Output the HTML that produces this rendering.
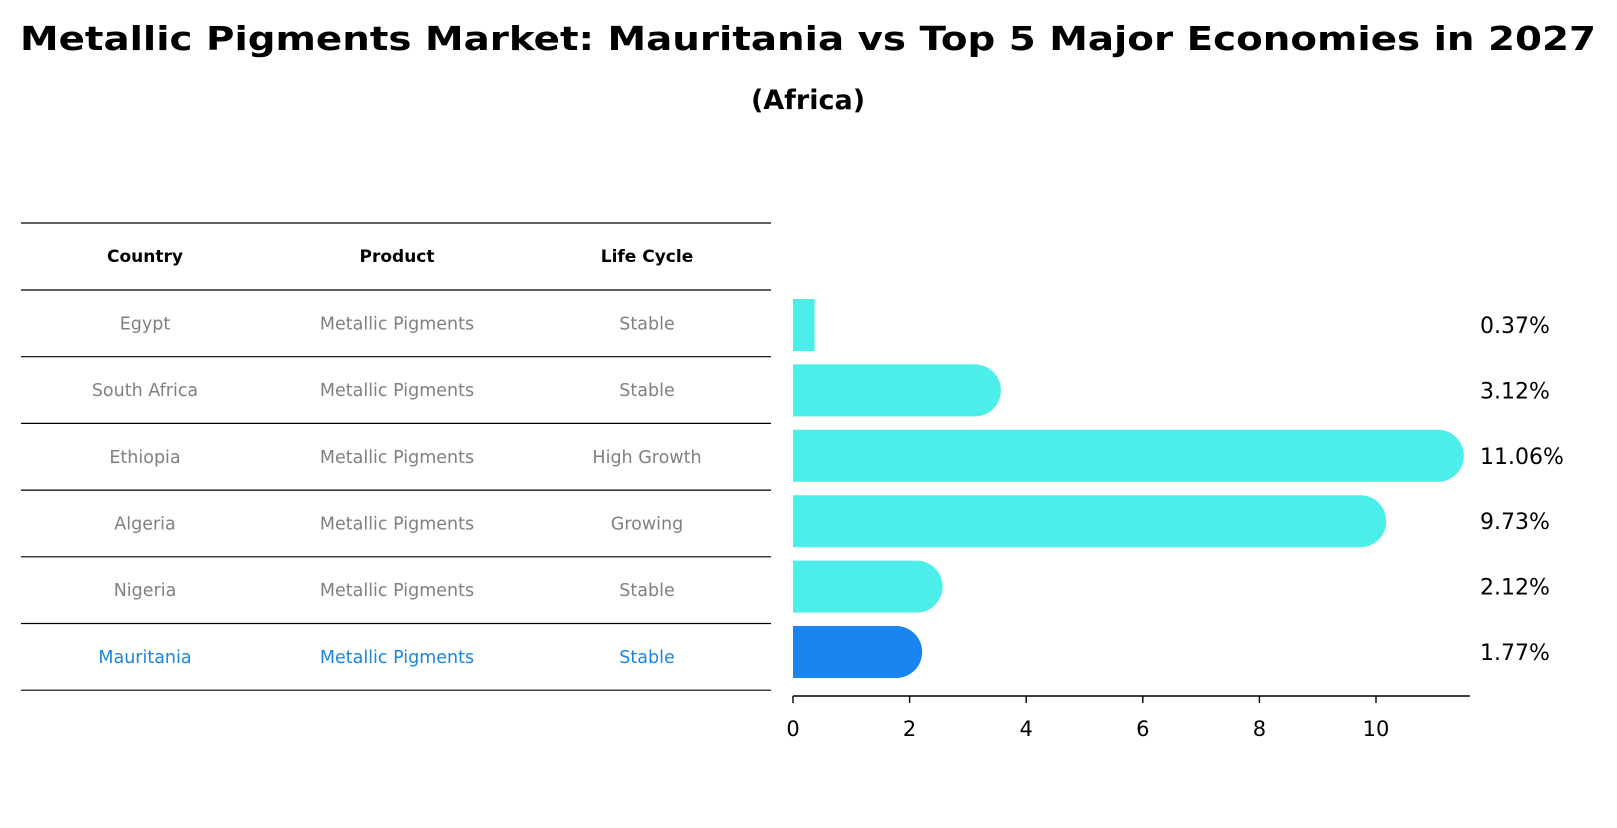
<!DOCTYPE html>
<html><head><meta charset="utf-8"><style>
body{margin:0;background:#fff;width:1617px;height:823px;overflow:hidden}
svg{font-family:"DejaVu Sans","Liberation Sans",sans-serif}
</style></head><body>
<svg width="1617" height="823">
<text x="808" y="50" text-anchor="middle" font-size="33" font-weight="bold" textLength="1576" lengthAdjust="spacingAndGlyphs">Metallic Pigments Market: Mauritania vs Top 5 Major Economies in 2027</text>
<text x="808" y="109" text-anchor="middle" font-size="27" font-weight="bold">(Africa)</text>
<g id="table"></g>
<g id="bars"></g>
</svg>
<script>
const countries=["Egypt","South Africa","Ethiopia","Algeria","Nigeria","Mauritania"];
const products=["Metallic Pigments","Metallic Pigments","Metallic Pigments","Metallic Pigments","Metallic Pigments","Metallic Pigments"];
const lifeCycles=["Stable","Stable","High Growth","Growing","Stable","Stable"];
const values=[0.37,3.12,11.06,9.73,2.12,1.77];
const ticks=[0,2,4,6,8,10];
const NS="http://www.w3.org/2000/svg";
function mk(p,t,a,txt){const e=document.createElementNS(NS,t);for(const k in a)e.setAttribute(k,a[k]);if(txt!=null)e.textContent=txt;p.appendChild(e);return e;}
const tb=document.getElementById('table'),bg=document.getElementById('bars');
const rowTop=290,rowH=66.7,colX=[145,397,647];
// table lines
for(let i=0;i<=countries.length+1;i++){
 const y=i==0?223:rowTop+(i-1)*rowH;
 const l=mk(tb,'line',{x1:21,x2:771,y1:y,y2:y,stroke:'#000','stroke-width':1.2});
 
 
}
["Country","Product","Life Cycle"].forEach((h,j)=>{
 const t=mk(tb,'text',{x:colX[j],y:262,'text-anchor':'middle','font-size':17,'font-weight':'bold'},h);
 
 
});
const xs=v=>793+v*58.3;
countries.forEach((c,i)=>{
 const last=i==countries.length-1,col=last?'#1a85e0':'#808080';
 const cy=rowTop+i*rowH+rowH/2;
 [c,products[i],lifeCycles[i]].forEach((s,j)=>{
  const t=mk(tb,'text',{x:colX[j],y:cy+6,'text-anchor':'middle','font-size':17.5,fill:col},s);
  
  
 });
 const by=325+i*65.4,h=52,fill=last?'#1a85f0':'#4beee8';
 const w=xs(values[i])-xs(0);
 let d;
 if(values[i]>1){const r=26;d=`M${xs(0)},${by-h/2} H${xs(values[i])} A${r},${h/2} 0 0 1 ${xs(values[i])},${by+h/2} H${xs(0)} Z`;}
 else d=`M${xs(0)},${by-h/2} H${xs(values[i])} V${by+h/2} H${xs(0)} Z`;
 const b=mk(bg,'path',{d,fill});
 
 
 const lt=mk(bg,'text',{x:1480,y:by+8,'font-size':22},values[i].toFixed(2)+'%');
 
 
});
const ax=mk(bg,'line',{x1:xs(0),x2:1470,y1:696,y2:696,stroke:'#000','stroke-width':1.6});


ticks.forEach(t=>{
 const tl=mk(bg,'line',{x1:xs(t),x2:xs(t),y1:696,y2:703,stroke:'#000','stroke-width':1.4});
 
 
 const tx=mk(bg,'text',{x:xs(t),y:736,'text-anchor':'middle','font-size':21},t);
 
 
});
</script>
</body></html>
